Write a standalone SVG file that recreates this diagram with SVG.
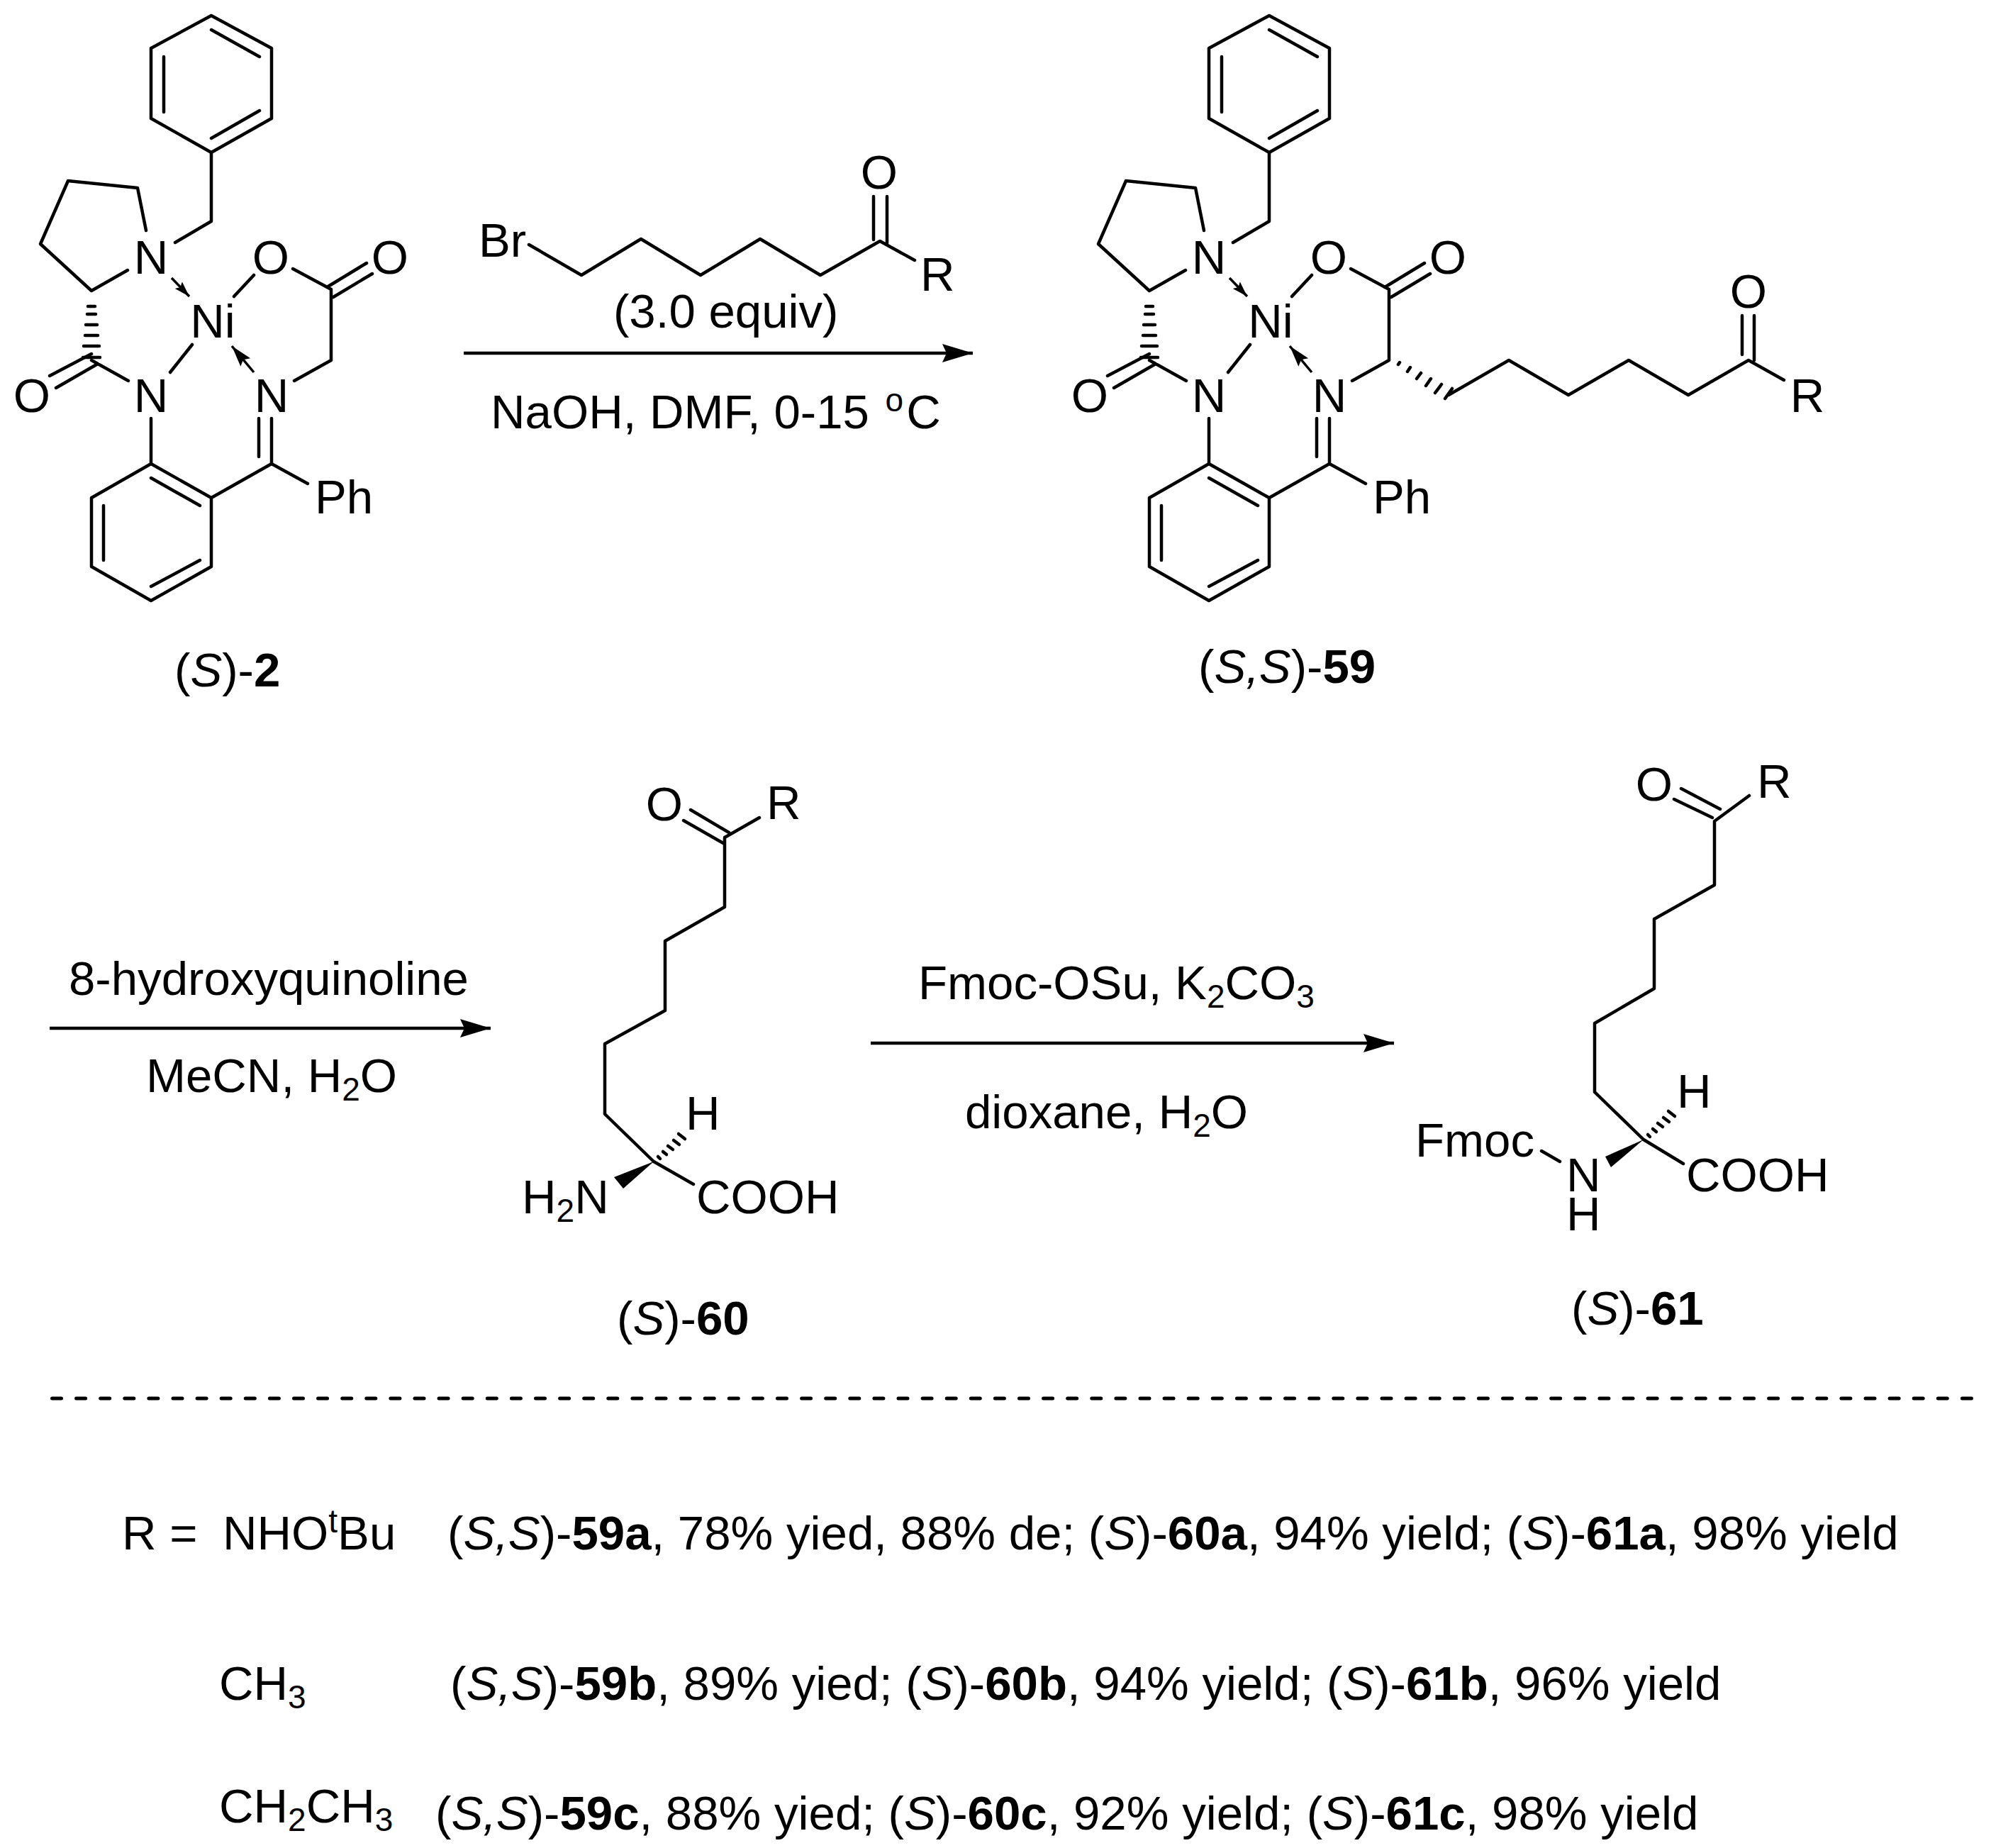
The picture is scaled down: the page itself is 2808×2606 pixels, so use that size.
<svg xmlns="http://www.w3.org/2000/svg" width="2808" height="2606" viewBox="0 0 2808 2606">
<style>
text{font-family:"Liberation Sans",Arial,sans-serif;font-size:67.2px;fill:#000}
.m{text-anchor:middle}
.b{font-weight:bold}
.i{font-style:italic}
.s{font-size:46px}
.bond{fill:none;stroke:#000;stroke-width:4.5;stroke-linecap:round;stroke-linejoin:round}
.thin{fill:none;stroke:#000;stroke-width:3.5}
.arrow{fill:none;stroke:#000;stroke-width:4.5}
.wedge{fill:#000;stroke:none}
.dash{fill:none;stroke:#000;stroke-width:5;stroke-linecap:round;stroke-dasharray:13 21.1}
</style>
<defs>
<marker id="rx" markerUnits="userSpaceOnUse" markerWidth="46" markerHeight="28" refX="43" refY="13" orient="auto"><path d="M0 0L43 13L0 26L6 13Z" fill="#000"/></marker>
<marker id="dat" markerUnits="userSpaceOnUse" markerWidth="24" markerHeight="16" refX="22" refY="7" orient="auto"><path d="M0 0L22 7L0 14L4 7Z" fill="#000"/></marker>
<marker id="dat2" markerUnits="userSpaceOnUse" markerWidth="32" markerHeight="20" refX="30" refY="9" orient="auto"><path d="M0 0L30 9L0 18L5 9Z" fill="#000"/></marker>
</defs>
<rect width="2808" height="2606" fill="#fff"/>

<g id="compound-S-2">
<path class="bond" d="M298 22L383 68V167L298 215L213 167V68ZM298 42L366 80M366 156L298 195M231 80V158"/>
<path class="bond" d="M298 215V312L247 342M206 325L194 265L96 255L57 344L129 410L180 381"/>
<path class="bond" d="M124 432h10M123 443h12M121 458h16M120 473h18M118 488h22M117 504h24"/>
<path class="bond" d="M70 530L129 499M79 547L138 513M129 508L181 537"/>
<path class="bond" d="M330 418L358 388M271 486L240 525M413 379L467 408V508L415 537M461 405L517 371M470 419L525 386"/>
<path class="bond" d="M213 590V654L298 702V799L213 847L129 799V702L213 654M213 674L282 713M282 790L213 827M146 713V790M298 702L383 654L434 682M383 590V654M365 590V644"/>
<path class="thin" d="M242 392L267 418" marker-end="url(#dat)"/>
<path class="thin" d="M358 525L327 488" marker-end="url(#dat2)"/>
<text class="m" x="213" y="386">N</text><text class="m" x="300" y="476">Ni</text><text class="m" x="382" y="386">O</text><text class="m" x="550" y="386">O</text>
<text class="m" x="213" y="581">N</text><text class="m" x="383" y="581">N</text><text class="m" x="45" y="581">O</text><text x="444" y="724">Ph</text>
<text x="246" y="968">(<tspan class="i">S</tspan>)-<tspan class="b">2</tspan></text>
</g>

<g id="compound-SS-59">
<g transform="translate(1492 0)">
<path class="bond" d="M298 22L383 68V167L298 215L213 167V68ZM298 42L366 80M366 156L298 195M231 80V158"/>
<path class="bond" d="M298 215V312L247 342M206 325L194 265L96 255L57 344L129 410L180 381"/>
<path class="bond" d="M124 432h10M123 443h12M121 458h16M120 473h18M118 488h22M117 504h24"/>
<path class="bond" d="M70 530L129 499M79 547L138 513M129 508L181 537"/>
<path class="bond" d="M330 418L358 388M271 486L240 525M413 379L467 408V508L415 537M461 405L517 371M470 419L525 386"/>
<path class="bond" d="M213 590V654L298 702V799L213 847L129 799V702L213 654M213 674L282 713M282 790L213 827M146 713V790M298 702L383 654L434 682M383 590V654M365 590V644"/>
<path class="thin" d="M242 392L267 418" marker-end="url(#dat)"/>
<path class="thin" d="M358 525L327 488" marker-end="url(#dat2)"/>
</g>
<text class="m" x="1705" y="386">N</text><text class="m" x="1792" y="476">Ni</text><text class="m" x="1874" y="386">O</text><text class="m" x="2042" y="386">O</text>
<text class="m" x="1705" y="581">N</text><text class="m" x="1875" y="581">N</text><text class="m" x="1537" y="581">O</text><text x="1936" y="724">Ph</text>
<path class="bond" d="M1972 514l2 -3M1985 524l4 -6M1998 534l6 -8M2011 544l7 -10M2024 554l9 -12M2038 562l10 -14"/>
<path class="bond" d="M2043 557L2128 508L2212 557L2297 508L2381 557L2466 508L2516 536M2457 445V500M2474 445V508"/>
<text class="m" x="2466" y="434">O</text><text class="m" x="2549" y="581">R</text>
<text x="1690" y="963">(<tspan class="i">S,S</tspan>)-<tspan class="b">59</tspan></text>
</g>

<g id="reagent-bromide">
<path class="bond" d="M746 345L820 388L904 337L988 388L1072 337L1157 388L1241 340L1290 367M1232 277V338M1251 277V343"/>
<text x="675" y="362">Br</text><text class="m" x="1240" y="266">O</text><text x="1298" y="410">R</text>
</g>

<g id="compound-S-60">
<path class="bond" d="M922 1638L853 1571V1472L938 1425V1327L1022 1279V1181L1071 1153M974 1142L1028 1174M964 1157L1020 1189M922 1638L978 1670"/>
<path class="wedge" d="M922 1638L866 1660L879 1676Z"/>
<path class="bond" d="M928 1631l3 3M935 1624l5 4M942 1616l7 5M950 1608l8 6M957 1599l9 7"/>
<text class="m" x="937" y="1157">O</text><text x="1081" y="1155">R</text><text x="967" y="1593">H</text>
<text x="736" y="1711">H<tspan class="s" dy="12">2</tspan><tspan dy="-12">N</tspan></text><text x="982" y="1711">COOH</text>
<text x="870" y="1882">(<tspan class="i">S</tspan>)-<tspan class="b">60</tspan></text>
</g>

<g id="compound-S-61">
<path class="bond" d="M2318 1607L2249 1540V1443L2333 1394V1296L2418 1248V1158L2467 1122M2371 1112L2426 1141M2361 1127L2415 1153M2318 1607L2374 1641M2174 1623L2200 1638"/>
<path class="wedge" d="M2318 1607L2264 1631L2272 1646Z"/>
<path class="bond" d="M2324 1600l3 3M2331 1592l5 4M2338 1584l7 5M2346 1576l8 6M2353 1567l9 7"/>
<text class="m" x="2333" y="1129">O</text><text x="2478" y="1125">R</text><text x="2365" y="1562">H</text>
<text x="1996" y="1631">Fmoc</text><text x="2209" y="1680">N</text><text x="2209" y="1735">H</text><text x="2378" y="1680">COOH</text>
<text x="2216" y="1868">(<tspan class="i">S</tspan>)-<tspan class="b">61</tspan></text>
</g>

<g id="connectors">
<line class="arrow" x1="654" y1="498" x2="1372" y2="498" marker-end="url(#rx)"/>
<line class="arrow" x1="70" y1="1450" x2="692" y2="1450" marker-end="url(#rx)"/>
<line class="arrow" x1="1228" y1="1471" x2="1966" y2="1471" marker-end="url(#rx)"/>
<line class="dash" x1="73.5" y1="1972" x2="2781" y2="1972"/>
</g>

<g id="conditions">
<text x="865" y="462">(3.0 equiv)</text>
<text x="692" y="604">NaOH, DMF, 0-15 <tspan class="s" dy="-24" dx="4">o</tspan><tspan dy="24" dx="4">C</tspan></text>
<text x="97" y="1403">8-hydroxyquinoline</text>
<text x="206" y="1540">MeCN, H<tspan class="s" dy="12">2</tspan><tspan dy="-12">O</tspan></text>
<text x="1295" y="1409">Fmoc-OSu, K<tspan class="s" dy="12">2</tspan><tspan dy="-12">CO</tspan><tspan class="s" dy="12">3</tspan></text>
<text x="1361" y="1591">dioxane, H<tspan class="s" dy="12">2</tspan><tspan dy="-12">O</tspan></text>
</g>

<g id="table">
<text x="172" y="2185">R =</text>
<text x="314" y="2185">NHO<tspan class="s" dy="-24">t</tspan><tspan dy="24">Bu</tspan></text>
<text x="631" y="2185">(<tspan class="i">S,S</tspan>)-<tspan class="b">59a</tspan>, 78% yied, 88% de; (<tspan class="i">S</tspan>)-<tspan class="b">60a</tspan>, 94% yield; (<tspan class="i">S</tspan>)-<tspan class="b">61a</tspan>, 98% yield</text>
<text x="309" y="2397">CH<tspan class="s" dy="12">3</tspan></text>
<text x="635" y="2397">(<tspan class="i">S,S</tspan>)-<tspan class="b">59b</tspan>, 89% yied; (<tspan class="i">S</tspan>)-<tspan class="b">60b</tspan>, 94% yield; (<tspan class="i">S</tspan>)-<tspan class="b">61b</tspan>, 96% yield</text>
<text x="309" y="2570">CH<tspan class="s" dy="12">2</tspan><tspan dy="-12">CH</tspan><tspan class="s" dy="12">3</tspan></text>
<text x="614" y="2580">(<tspan class="i">S,S</tspan>)-<tspan class="b">59c</tspan>, 88% yied; (<tspan class="i">S</tspan>)-<tspan class="b">60c</tspan>, 92% yield; (<tspan class="i">S</tspan>)-<tspan class="b">61c</tspan>, 98% yield</text>
</g>
</svg>
